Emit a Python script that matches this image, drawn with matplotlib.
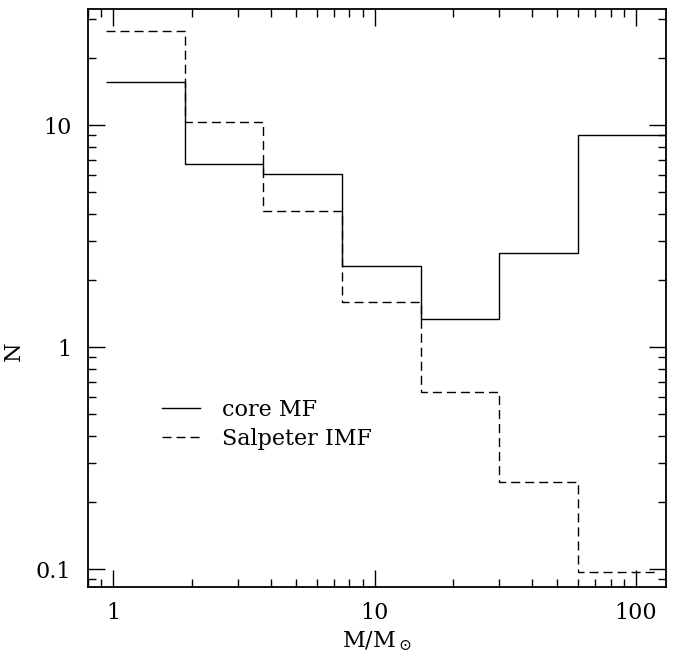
import matplotlib
matplotlib.use("Agg")
import matplotlib.pyplot as plt
import matplotlib.ticker as mticker
import numpy as np

# Bin edges (solar masses)
bin_edges = [0.94, 1.875, 3.75, 7.5, 15.0, 30.0, 60.0, 120.0]
core_mf = [15.7, 6.67, 6.02, 2.32, 1.34, 2.67, 9.0]
salpeter_imf = [26.6, 10.4, 4.11, 1.60, 0.631, 0.247, 0.097]
core_last_edge = 135.0  # solid line runs to the frame

plt.rcParams['font.family'] = ['DejaVu Serif']
plt.rcParams['mathtext.fontset'] = 'dejavuserif'

fig = plt.figure(figsize=(6.89, 6.59), dpi=100)
ax = fig.add_axes([0.1277, 0.1097, 0.9662 - 0.1277, 0.9859 - 0.1097])

core_edges = bin_edges[:-1] + [core_last_edge]
ax.stairs(core_mf, core_edges, color='black', lw=1.0, label='core MF', baseline=None)
ax.stairs(salpeter_imf, bin_edges, color='black', lw=1.0,
          linestyle=(0, (6.5, 3.6)), label='Salpeter IMF', baseline=None)

ax.set_xscale('log')
ax.set_yscale('log')
ax.set_xlim(0.80, 130)
ax.set_ylim(0.0835, 33.3)

xticks = [1, 10, 100]
yticks = [0.1, 1, 10]
xticklabels = ['1', '10', '100']
yticklabels = ['0.1', '1', '10']
ax.set_xticks(xticks)
ax.set_xticklabels(xticklabels)
ax.set_yticks(yticks)
ax.set_yticklabels(yticklabels)
ax.xaxis.set_minor_locator(mticker.LogLocator(base=10, subs=np.arange(2, 10)))
ax.yaxis.set_minor_locator(mticker.LogLocator(base=10, subs=np.arange(2, 10)))
ax.xaxis.set_minor_formatter(mticker.NullFormatter())
ax.yaxis.set_minor_formatter(mticker.NullFormatter())

ax.tick_params(which='both', direction='in', top=True, right=True, width=1.0)
ax.tick_params(which='major', length=12, labelsize=16)
ax.tick_params(axis='x', which='major', pad=11)
ax.tick_params(axis='y', which='major', pad=12)
ax.tick_params(which='minor', length=6)
for s in ax.spines.values():
    s.set_linewidth(1.3)

ax.set_xlabel(r'M/M$_\odot$', fontsize=16, labelpad=4)
ax.set_ylabel('N', fontsize=16)
ax.yaxis.set_label_coords(-0.109, 0.408)

leg = ax.legend(loc='upper left', bbox_to_anchor=(0.112, 0.34), frameon=False,
                fontsize=16, handlelength=1.75, handletextpad=0.95,
                labelspacing=0.3, borderaxespad=0)

fig.savefig('out.png', dpi=100)
